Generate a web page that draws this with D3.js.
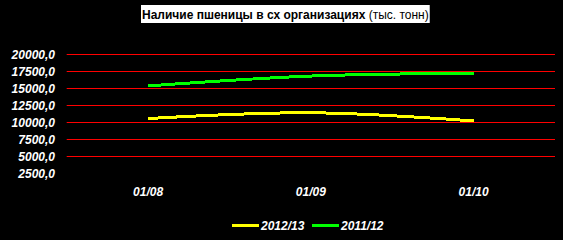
<!DOCTYPE html>
<html>
<head>
<meta charset="utf-8">
<script src="https://cdn.jsdelivr.net/npm/d3@7"></script>
<style>
html,body{margin:0;padding:0;background:#000;}
svg{display:block;}
</style>
</head>
<body>
<script>
const categories = ["01/08", "01/09", "01/10"];
const series2012 = [10550, 11400, 10200];
const series2011 = [15350, 16800, 17200];
const seriesNames = ["2012/13", "2011/12"];
const yTicks = [2500, 5000, 7500, 10000, 12500, 15000, 17500, 20000];

const W = 563, H = 240;
const svg = d3.select("body").append("svg").attr("width", W).attr("height", H)
  .style("background", "#000");
svg.append("rect").attr("width", W).attr("height", H).attr("fill", "#000");

const x = d3.scaleBand().domain(categories).range([66.7, 555]);
const y = d3.scaleLinear().domain([2500, 20000]).range([173.3, 54.3]);
const cx = d => x(d) + x.bandwidth() / 2;

// gridlines
svg.append("g").selectAll("line").data(yTicks.filter(t => t > 2500)).join("line")
  .attr("x1", 66.7).attr("x2", 555)
  .attr("y1", d => Math.round(y(d)) + 0.5).attr("y2", d => Math.round(y(d)) + 0.5)
  .attr("stroke", "#ff0000").attr("stroke-width", 1);

const lblFont = "'Liberation Sans', Arial, sans-serif";
// y axis labels
const fmt = v => v.toFixed(1).replace(".", ",");
svg.append("g").selectAll("text").data(yTicks).join("text")
  .attr("x", 55).attr("y", d => y(d)).attr("dy", "0.36em")
  .attr("text-anchor", "end").attr("fill", "#fff")
  .attr("font-family", lblFont).attr("font-weight", "bold").attr("font-style", "italic")
  .attr("font-size", 12).text(fmt);

// x axis labels
svg.append("g").selectAll("text").data(categories).join("text")
  .attr("x", d => cx(d)).attr("y", 196)
  .attr("text-anchor", "middle").attr("fill", "#fff")
  .attr("font-family", lblFont).attr("font-weight", "bold").attr("font-style", "italic")
  .attr("font-size", 12).text(d => d);

// lines
const line = d3.line().x((d, i) => cx(categories[i])).y(d => y(d))
  .curve(d3.curveCardinal.tension(0));
const seriesData = [series2012, series2011];
const colors = ["#ffff00", "#00ff00"];
seriesData.forEach((s, i) => {
  svg.append("path").datum(s).attr("d", line)
    .attr("fill", "none").attr("stroke", colors[i]).attr("stroke-width", 3)
    .attr("shape-rendering", "crispEdges");
});

// title
const tg = svg.append("g");
const trect = tg.append("rect").attr("fill", "#fff");
const tt = tg.append("text").attr("x", 142).attr("y", 19)
  .attr("font-family", lblFont).attr("font-size", 12).attr("fill", "#000");
tt.append("tspan").attr("font-weight", "bold").text("Наличие пшеницы в сх организациях");
tt.append("tspan").text(" (тыс. тонн)");
const bb = tt.node().getBBox();
trect.attr("x", 141).attr("y", 5).attr("width", Math.max(281, bb.width + 2)).attr("height", 18);

// legend
const legendItems = [
  {name: seriesNames[0], color: colors[0], x: 232},
  {name: seriesNames[1], color: colors[1], x: 312}
];
const lg = svg.append("g");
legendItems.forEach(it => {
  lg.append("line").attr("x1", it.x).attr("x2", it.x + 27)
    .attr("y1", 225.5).attr("y2", 225.5)
    .attr("stroke", it.color).attr("stroke-width", 3)
    .attr("shape-rendering", "crispEdges");
  lg.append("text").attr("x", it.x + 29).attr("y", 229.5)
    .attr("fill", "#fff").attr("font-family", lblFont)
    .attr("font-weight", "bold").attr("font-style", "italic").attr("font-size", 12)
    .text(it.name);
});
</script>
</body>
</html>
